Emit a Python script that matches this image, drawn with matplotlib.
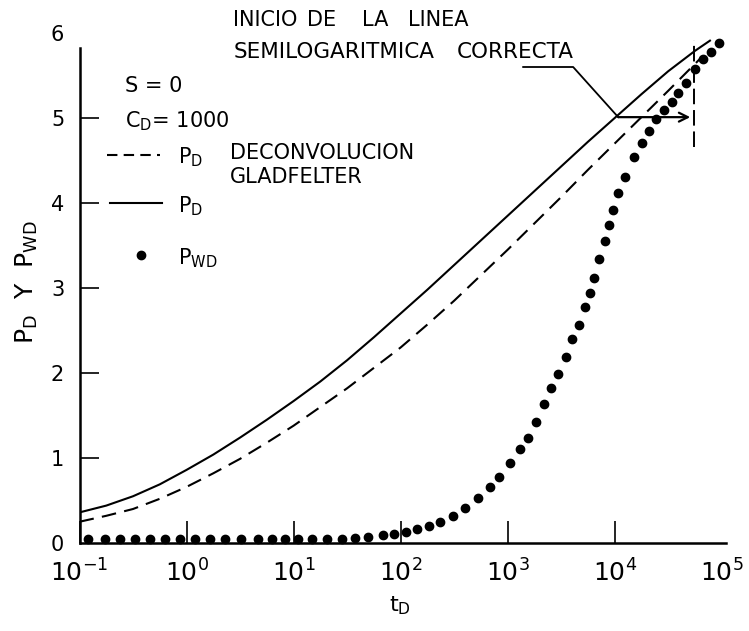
import numpy as np
import matplotlib
matplotlib.use('Agg')
import matplotlib.pyplot as plt
from matplotlib.lines import Line2D

# curva P_D (linea continua), log10(tD) -> PD
solid_logt = [-1.0, -0.75, -0.5, -0.25, 0.0, 0.25, 0.5, 0.75, 1.0, 1.25, 1.5,
              1.75, 2.0, 2.25, 2.5, 2.75, 3.0, 3.25, 3.5, 3.75, 4.0, 4.25,
              4.5, 4.75, 4.89]
solid_pd = [0.36, 0.44, 0.55, 0.69, 0.86, 1.04, 1.24, 1.45, 1.67, 1.90, 2.15,
            2.42, 2.70, 2.98, 3.27, 3.56, 3.85, 4.14, 4.43, 4.72, 5.00, 5.28,
            5.55, 5.79, 5.91]

# P_D por deconvolucion de Gladfelter (linea discontinua)
dash_logt = [-1.0, -0.75, -0.5, -0.25, 0.0, 0.25, 0.5, 0.75, 1.0, 1.25, 1.5,
             1.75, 2.0, 2.25, 2.5, 2.75, 3.0, 3.25, 3.5, 3.75, 4.0, 4.25,
             4.5, 4.8]
dash_pd = [0.25, 0.32, 0.40, 0.52, 0.66, 0.82, 0.99, 1.18, 1.38, 1.60, 1.82,
           2.06, 2.30, 2.57, 2.85, 3.15, 3.45, 3.76, 4.07, 4.39, 4.70, 5.01,
           5.32, 5.70]

# P_WD (puntos)
pwd_logt = [-0.921, -0.764, -0.624, -0.484, -0.344, -0.198, -0.064, 0.077,
            0.217, 0.357, 0.509, 0.671, 0.796, 0.921, 1.045, 1.170, 1.310,
            1.450, 1.575, 1.699, 1.834, 1.939, 2.051, 2.157, 2.264, 2.369,
            2.493, 2.603, 2.727, 2.836, 2.918, 3.026, 3.114, 3.189, 3.264,
            3.344, 3.407, 3.469, 3.544, 3.600, 3.662, 3.721, 3.771, 3.808,
            3.855, 3.911, 3.951, 3.986, 4.030, 4.095, 4.185, 4.257, 4.325,
            4.388, 4.465, 4.535, 4.591, 4.662, 4.752, 4.821, 4.902, 4.970]
pwd = [0.05, 0.05, 0.05, 0.05, 0.05, 0.05, 0.05, 0.05,
       0.05, 0.05, 0.05, 0.05, 0.05, 0.05, 0.05, 0.05, 0.05,
       0.05, 0.06, 0.07, 0.09, 0.11, 0.13, 0.165, 0.204, 0.25,
       0.32, 0.408, 0.526, 0.662, 0.78, 0.937, 1.102, 1.231, 1.42,
       1.635, 1.827, 1.988, 2.188, 2.396, 2.565, 2.78, 2.945, 3.114,
       3.345, 3.553, 3.737, 3.914, 4.114, 4.309, 4.545, 4.71, 4.847,
       4.985, 5.094, 5.192, 5.291, 5.408, 5.573, 5.691, 5.773, 5.886]

x_ticks = [1e-1, 1e0, 1e1, 1e2, 1e3, 1e4, 1e5]
x_labels = ['$10^{-1}$', '$10^{0}$', '$10^{1}$', '$10^{2}$', '$10^{3}$', '$10^{4}$', '$10^{5}$']
y_ticks = [0, 1, 2, 3, 4, 5, 6]

W, H = 749, 631


def px(x, y):
    return x / W, 1 - y / H


fig = plt.figure(figsize=(W / 100, H / 100), dpi=100)
ax = fig.add_axes([79.5 / W, 1 - 543 / H, (726 - 79.5) / W, (543 - 33) / H])

ax.plot(10 ** np.array(solid_logt), solid_pd, color='k', lw=1.5)
ax.plot(10 ** np.array(dash_logt), dash_pd, color='k', lw=1.5, linestyle=(0, (7, 4)))
ax.plot(10 ** np.array(pwd_logt), pwd, 'o', color='k', ms=6, clip_on=False)

ax.set_xscale('log')
ax.set_xlim(1e-1, 10 ** 5.04)
ax.set_ylim(0, 6)
ax.set_xticks(x_ticks)
ax.set_xticklabels(x_labels)
ax.minorticks_off()
ax.set_yticks(y_ticks)
ax.set_yticklabels([str(v) for v in y_ticks])

for s in ['top', 'right']:
    ax.spines[s].set_visible(False)
ax.spines['left'].set_linewidth(1.8)
ax.spines['bottom'].set_linewidth(1.8)
ax.spines['left'].set_bounds(0, 5.82)
ax.tick_params(axis='x', direction='in', length=16, width=1.2, labelsize=18, pad=12)
ax.tick_params(axis='y', direction='in', length=14, width=1.2, labelsize=15, pad=11)
ax.xaxis.get_major_ticks()[-1].tick1line.set_visible(False)
ax.yaxis.get_major_ticks()[-1].tick1line.set_visible(False)
ax.yaxis.get_major_ticks()[0].tick1line.set_visible(False)

# inicio de la recta semilogaritmica
ax.plot([10 ** 3.145, 10 ** 3.612, 10 ** 4.033], [5.60, 5.60, 5.01],
        color='k', lw=1.3, clip_on=False)
ax.annotate('', xy=(10 ** 4.706, 5.01), xytext=(10 ** 4.033, 5.01),
            arrowprops=dict(arrowstyle='->', color='k', lw=1.6,
                            mutation_scale=16, shrinkA=0, shrinkB=0))
ax.plot([10 ** 4.745, 10 ** 4.745], [4.66, 5.92], color='k', lw=1.4,
        linestyle=(0, (8, 3)), clip_on=False)

for word, x in [('INICIO', 233), ('DE', 307), ('LA', 362), ('LINEA', 408)]:
    fig.text(*px(x, 20), word, fontsize=15, va='center', ha='left')
for word, x in [('SEMILOGARITMICA', 234), ('CORRECTA', 457)]:
    fig.text(*px(x, 52), word, fontsize=15.5, va='center', ha='left')

# leyenda
fig.text(*px(125, 86), 'S = 0', fontsize=15, va='center', ha='left')
fig.text(*px(125, 121), r'C$_\mathrm{D}$= 1000', fontsize=15, va='center', ha='left')
fig.add_artist(Line2D([107 / W, 160 / W], [1 - 155 / H] * 2, color='k', lw=1.5,
                      linestyle=(0, (5, 3))))
fig.text(*px(178, 157), r'P$_\mathrm{D}$', fontsize=15, va='center', ha='left')
fig.text(*px(230, 153), 'DECONVOLUCION', fontsize=15, va='center', ha='left')
fig.text(*px(230, 177), 'GLADFELTER', fontsize=15, va='center', ha='left')
fig.add_artist(Line2D([110 / W, 162 / W], [1 - 203 / H] * 2, color='k', lw=1.5))
fig.text(*px(178, 206), r'P$_\mathrm{D}$', fontsize=15, va='center', ha='left')
fig.add_artist(Line2D([141 / W], [1 - 255 / H], marker='o', color='k', ms=6))
fig.text(*px(178, 258), r'P$_\mathrm{WD}$', fontsize=15, va='center', ha='left')

fig.text(*px(27, 282), r'P$_\mathrm{D}$  Y  P$_\mathrm{WD}$', fontsize=18,
         rotation=90, va='center', ha='center')
fig.text(*px(400, 606), r't$_\mathrm{D}$', fontsize=16, va='center', ha='center')

fig.savefig('out.png', dpi=100, facecolor='white')
